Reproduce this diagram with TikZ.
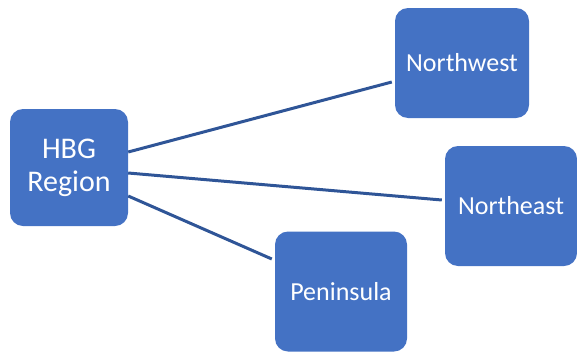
\documentclass[tikz,border=0pt]{standalone}
\usepackage{fontspec}
\setmainfont{Carlito}
\definecolor{boxblue}{HTML}{4472C4}
\definecolor{lineblue}{HTML}{2F5597}

\begin{document}
\begin{tikzpicture}[x=1pt,y=-1pt,
    region/.style={fill=boxblue,rounded corners=13pt,inner sep=0pt,text=white,
      align=center,font=\fontsize{26}{30}\selectfont},
    link/.style={lineblue,line width=3pt}]
   \useasboundingbox (0,0) rectangle (577,351);
   % boxes
   \node[region,minimum width=118pt,minimum height=117pt,
     font=\fontsize{30}{33}\selectfont] (hbg) at (69,167.5) {HBG\\Region};
   \node[region,minimum width=134pt,minimum height=110pt] (nw) at (462,63) {Northwest};
   \node[region,minimum width=132pt,minimum height=120pt] (ne) at (511,206) {Northeast};
   \node[region,minimum width=132pt,minimum height=120pt] (pen) at (341,291.5) {Peninsula};
   % links
   \draw[link] ([yshift=15.5pt]hbg.east) -- ([xshift=-3pt,yshift=-19pt]nw.west);
   \draw[link] ([yshift=-5.5pt]hbg.east) -- ([xshift=-3pt,yshift=6pt]ne.west);
   \draw[link] ([yshift=-28.5pt]hbg.east) -- ([xshift=-3pt,yshift=32.5pt]pen.west);
  \end{tikzpicture}
\end{document}
